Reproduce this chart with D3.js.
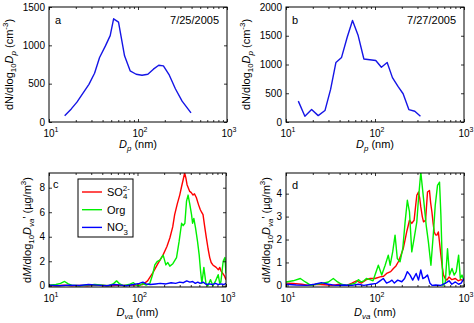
<!DOCTYPE html>
<html lang="en">
<head>
<meta charset="UTF-8">
<title>Size distributions</title>
<style>
  body { margin: 0; background: #fff; }
  text { font-family: "Liberation Sans", Arial, sans-serif; fill: #000; }
</style>
</head>
<body>
<svg id="fig" width="474" height="323"></svg>
<script src="https://d3js.org/d3.v7.min.js"></script>
<script>
// ---- data ----
// panel a, 7/25/2005 : [Dp nm, dN/dlogDp]
var smps0725 = [[15,83],[17.8,171],[20.6,259],[24,373],[28.1,491],[32.5,636],[37,842],[43.2,996],[48.7,1127],
  [53.2,1346],[60.4,1303],[70.6,864],[81.6,667],[95.3,623],[111,610],[129,623],[149,689],[171,741],[193,732],
  [225,610],[263,434],[313,272],[394,118]];
// panel b, 7/27/2005
var smps0727 = [[13.75,363],[16.3,99],[19.4,216],[23,111],[27.4,199],[31.7,567],[36.4,1035],[42.1,1123],[48.7,1474],
  [55.9,1766],[64.7,1503],[75,1096],[87.5,1082],[102,1070],[118,953],[137,1035],[157,772],[182,614],[207,491],
  [240,216],[280,187],[324,99]];

// panel c, AMS : [Dva nm, dM/dlogDva]
var so4C = [[10,0.02],[12,0],[15,0.05],[18,0],[22,0.03],[27,0],[33,0.05],[40,0.02],[50,0],[60,0.05],[70,0.02],[85,0.05],
  [100,0.05],[115,0.1],[130,0.4],[150,1.1],[170,1.8],[194,2.5],[215,3.2],[232,3.9],[250,4.8],[263,5.8],[282,6.7],
  [300,7.4],[315,8.1],[328,8.65],[341,9.2],[352,8.8],[363,8.25],[389,7.7],[405,7.6],[424,7.4],[440,7.5],[462,7.2],
  [490,6.6],[513,6.2],[530,6.0],[550,5.8],[575,4.8],[600,3.9],[628,3.0],[655,2.3],[680,1.9],[710,1.7],[740,1.6],
  [775,1.5],[820,1.3],[850,1.5],[880,1.2],[920,1.0],[960,0.8],[1000,0.5]];
var orgC = [[10,0.05],[12,0.1],[13.5,0.2],[15,0.35],[16.5,0.15],[18,0.05],[22,0],[27,0.05],[33,0.1],[40,0.05],[47,0],
  [53,0.15],[58,0.4],[63,0.15],[70,0],[80,0.1],[90,0.25],[97,0.05],[105,0],[115,0.2],[125,0.05],[138,0.2],[148,0.9],
  [157,1.7],[168,2.0],[179,2.1],[195,2.5],[209,1.7],[220,1.9],[232,1.6],[251,1.8],[276,2.3],[295,3.6],[315,5.1],
  [328,4.9],[343,5.1],[358,6.9],[373,7.4],[391,6.6],[408,5.8],[419,5.1],[433,5.5],[453,4.7],[477,3.6],[498,2.5],
  [516,1.2],[534,0.2],[562,1.5],[593,0.2],[624,0],[669,0.5],[711,0],[763,0.4],[816,0.9],[850,0.2],[875,0.3],
  [929,2.0],[972,2.3],[1000,1.0]];
var no3C = [[10,0.05],[13,0],[17,0.05],[22,0.02],[28,0.1],[35,0.05],[45,0],[55,0.1],[65,0.05],[75,0],[90,0.1],
  [105,0.2],[115,0.3],[125,0.15],[140,0.1],[160,0.15],[180,0.2],[210,0.15],[240,0.25],[270,0.2],[300,0.3],[330,0.25],
  [360,0.4],[390,0.3],[420,0.35],[450,0.2],[480,0.3],[510,0.2],[550,0.3],[600,0.1],[650,0.15],[700,0.1],[760,0.2],
  [820,0.1],[880,0.15],[940,0.1],[1000,0.2]];

// panel d
var so4D = [[10,0.1],[12,0.08],[15,0.05],[18,0],[22,0.05],[27,0.03],[33,0],[40,0.05],[48,0],[55,0.1],[62,0.2],[70,0.1],
  [80,0.25],[88,0.3],[100,0.3],[114,0.37],[125,0.4],[135,0.52],[150,0.6],[161,0.74],[172,0.85],[183,1.03],[195,1.3],
  [208,1.61],[218,2.0],[227,2.33],[236,2.6],[244,2.84],[259,2.7],[275,2.84],[285,3.4],[295,3.93],[308,4.07],[318,3.8],
  [327,3.42],[340,3.0],[351,2.77],[370,2.84],[389,4.07],[409,4.14],[422,3.6],[436,3.2],[450,2.7],[463,2.33],[480,2.2],
  [495,2.19],[515,2.33],[530,1.9],[550,1.32],[570,0.8],[589,0.45],[615,0.3],[643,0.23],[680,0.37],[730,0.25],
  [800,0.3],[860,0.2],[920,0.25],[1000,0.2]];
var orgD = [[10,0.15],[12,0.2],[14.5,0.3],[16.5,0.15],[19,0],[22,0.05],[26,0.1],[30,0.15],[34,0.3],[38,0.15],[42,0.05],
  [48,0],[54,0.05],[60,0.1],[65,0.25],[70,0.15],[75,0.2],[80,0.3],[88,0.25],[95,0.2],[100,0.45],[109,0.88],[119,0.45],
  [130,0.88],[141,1.32],[148,0.88],[158,1.46],[168,2.19],[178,1.17],[191,1.03],[205,1.6],[218,2.77],[231,3.71],
  [244,3.2],[259,1.46],[275,2.04],[295,2.77],[308,3.78],[327,4.94],[351,3.78],[376,2.62],[398,1.9],[425,0.88],
  [454,2.33],[475,3.49],[504,4.36],[531,4.5],[550,3.06],[565,1.5],[579,0],[615,0.1],[653,1.6],[688,0.45],[733,0.74],
  [775,0.45],[818,0.6],[870,1.32],[909,0.3],[950,0.45],[1000,0.2]];
var no3D = [[10,0.05],[13,0.02],[17,0],[21,0.05],[25,0.12],[30,0.05],[36,0],[45,0.02],[55,0],[65,0.05],[75,0],[90,0.05],
  [104,0.09],[114,0.2],[124,0.3],[135,0.1],[145,0.15],[155,0.23],[165,0.1],[180,0.23],[200,0.16],[215,0.3],[231,0.6],
  [248,0.45],[265,0.23],[290,0.52],[308,0.23],[327,0.67],[345,0.3],[365,0.35],[389,0.45],[415,0.09],[440,0],[480,0.02],
  [550,0],[620,0.1],[680,0.2],[730,0.05],[800,0.15],[870,0.05],[930,0.1],[1000,0.3]];

var xMajor = [10, 100, 1000];
var xMinor = [20,30,40,50,60,70,80,90,200,300,400,500,600,700,800,900];
var yTicksA = [0, 500, 1000, 1500];
var yTicksB = [0, 500, 1000, 1500, 2000];
var yTicksC = [0, 2, 4, 6, 8];
var yTicksD = [0, 1, 2, 3, 4];
var legendNames = ['SO4', 'Org', 'NO3'];

var svg = d3.select('#fig');

// text with sub/superscripts, parts = [{t, sub, sup, it, dx}]
function rich(txt, parts, size) {
    var shift = 0;
    parts.forEach(function (p) {
        var target = p.sub ? size * 0.3 : (p.sup ? -size * 0.42 : 0);
        var ts = txt.append('tspan')
            .attr('dy', target - shift)
            .style('font-size', (p.sub || p.sup) ? (size * 0.72) + 'px' : size + 'px')
            .style('font-style', p.it ? 'italic' : 'normal')
            .text(p.t);
        if (p.dx) ts.attr('dx', p.dx);
        shift = target;
    });
}

var dpLabel = [{t: 'D', it: true}, {t: 'p', sub: true, it: true}, {t: ' (nm)'}];
var dvaLabel = [{t: 'D', it: true}, {t: 'va', sub: true, it: true}, {t: ' (nm)'}];
var dnLabel = [{t: 'dN/dlog'}, {t: '10', sub: true}, {t: 'D', it: true}, {t: 'p', sub: true, it: true},
    {t: ' (cm'}, {t: '-3', sup: true}, {t: ')'}];
var dmLabel = [{t: 'd'}, {t: 'M', it: true}, {t: '/dlog'}, {t: '10', sub: true}, {t: 'D', it: true},
    {t: 'va', sub: true, it: true}, {t: '\u2019'}, {t: ' (\u00b5g/m'}, {t: '3', sup: true}, {t: ')'}];

function panel(o) {
    var g = svg.append('g').attr('transform', 'translate(' + o.left + ',' + o.top + ')');
    var w = o.w, h = o.h;
    var x = d3.scaleLog().domain([10, 1000]).range([0, w]);
    var y = d3.scaleLinear().domain(o.yDomain).range([h, 0]);

    var clipId = 'clip' + o.tag;
    g.append('clipPath').attr('id', clipId).append('rect').attr('width', w).attr('height', h);

    var line = d3.line().x(function (d) { return x(d[0]); }).y(function (d) { return y(d[1]); });
    var lines = g.append('g').attr('clip-path', 'url(#' + clipId + ')');
    o.series.forEach(function (s) {
        lines.append('path').datum(s.data).attr('d', line)
            .attr('fill', 'none').attr('stroke', s.color).attr('stroke-width', 1.4)
            .attr('stroke-linejoin', 'round');
    });

    // ticks, MATLAB style: inside, on all four sides
    function tickAxis(axis, tr) {
        var a = g.append('g').attr('transform', tr).call(axis);
        a.select('.domain').remove();
        a.selectAll('line').attr('stroke', '#000').attr('stroke-width', 0.8);
        return a;
    }
    tickAxis(d3.axisBottom(x).tickValues(xMajor).tickSize(-3).tickFormat(''), 'translate(0,' + h + ')');
    tickAxis(d3.axisBottom(x).tickValues(xMinor).tickSize(-2).tickFormat(''), 'translate(0,' + h + ')');
    tickAxis(d3.axisTop(x).tickValues(xMajor).tickSize(-3).tickFormat(''), 'translate(0,0)');
    tickAxis(d3.axisTop(x).tickValues(xMinor).tickSize(-2).tickFormat(''), 'translate(0,0)');
    var ya = tickAxis(d3.axisLeft(y).tickValues(o.yTicks).tickSize(-3).tickPadding(4).tickFormat(d3.format('d')), 'translate(0,0)');
    ya.selectAll('text').style('font-size', '10px').attr('fill', '#000')
        .style('font-family', '"Liberation Sans", Arial, sans-serif');
    tickAxis(d3.axisRight(y).tickValues(o.yTicks).tickSize(-3).tickFormat(''), 'translate(' + w + ',0)');

    g.append('rect').attr('width', w).attr('height', h)
        .attr('fill', 'none').attr('stroke', '#000').attr('stroke-width', 1);

    // x tick labels 10^n
    xMajor.forEach(function (v, i) {
        g.append('text').attr('x', x(v)).attr('y', h + 15).attr('text-anchor', 'middle')
            .style('font-size', '10px').text('10');
        g.append('text').attr('x', x(v) + 5.5).attr('y', h + 10).style('font-size', '7px').text(i + 1);
    });

    var xt = g.append('text').attr('x', w / 2).attr('y', h + o.xTitleDy).attr('text-anchor', 'middle');
    rich(xt, o.xLabel, 11);

    var yt = g.append('text').attr('text-anchor', 'middle')
        .attr('transform', 'translate(' + o.yTitleX + ',' + (h / 2) + ') rotate(-90)');
    rich(yt, o.yLabel, 11);

    g.append('text').attr('x', o.tagX).attr('y', o.tagY).style('font-size', '11px').text(o.tag);
    if (o.date) {
        g.append('text').attr('x', w - 8).attr('y', 17).attr('text-anchor', 'end')
            .style('font-size', '11px').text(o.date);
    }
    return {g: g, x: x, y: y};
}

var blue = '#1515e6';
var green = '#00f000';
panel({tag: 'a', left: 49, top: 7, w: 178, h: 115, yDomain: [0, 1500], yTicks: yTicksA,
    series: [{data: smps0725, color: blue}], xLabel: dpLabel, yLabel: dnLabel, xTitleDy: 26,
    yTitleX: -36, tagX: 6, tagY: 17, date: '7/25/2005'});
panel({tag: 'b', left: 286, top: 7, w: 178, h: 115, yDomain: [0, 2000], yTicks: yTicksB,
    series: [{data: smps0727, color: blue}], xLabel: dpLabel, yLabel: dnLabel, xTitleDy: 26,
    yTitleX: -36, tagX: 6, tagY: 17, date: '7/27/2005'});
var pc = panel({tag: 'c', left: 49, top: 173, w: 177, h: 114, yDomain: [-0.1, 9.2], yTicks: yTicksC,
    series: [{data: so4C, color: '#ff0000'}, {data: orgC, color: green}, {data: no3C, color: '#0000ff'}],
    xLabel: dvaLabel, yLabel: dmLabel, xTitleDy: 29, yTitleX: -18, tagX: 4, tagY: 15});
panel({tag: 'd', left: 286, top: 173, w: 178, h: 114, yDomain: [-0.07, 4.9], yTicks: yTicksD,
    series: [{data: so4D, color: '#ff0000'}, {data: orgD, color: green}, {data: no3D, color: '#0000ff'}],
    xLabel: dvaLabel, yLabel: dmLabel, xTitleDy: 29, yTitleX: -16, tagX: 6, tagY: 16});

// legend in panel c
var lg = pc.g.append('g').attr('transform', 'translate(29,6)');
lg.append('rect').attr('width', 55).attr('height', 58).attr('fill', '#fff').attr('stroke', '#000');
var legColors = ['#ff0000', green, '#0000ff'];
var legParts = [
    [{t: 'SO'}, {t: '4', sub: true}, {t: '2-', sup: true, dx: -4.5}],
    [{t: 'Org'}],
    [{t: 'NO'}, {t: '3', sub: true}, {t: '-', sup: true, dx: -4.5}]
];
legendNames.forEach(function (name, i) {
    var yy = 13 + i * 17.7;
    lg.append('line').attr('x1', 4).attr('x2', 24).attr('y1', yy).attr('y2', yy)
        .attr('stroke', legColors[i]).attr('stroke-width', 1.4);
    var t = lg.append('text').attr('x', 29).attr('y', yy + 4).attr('data-name', name);
    rich(t, legParts[i], 11);
});
</script>
</body>
</html>
